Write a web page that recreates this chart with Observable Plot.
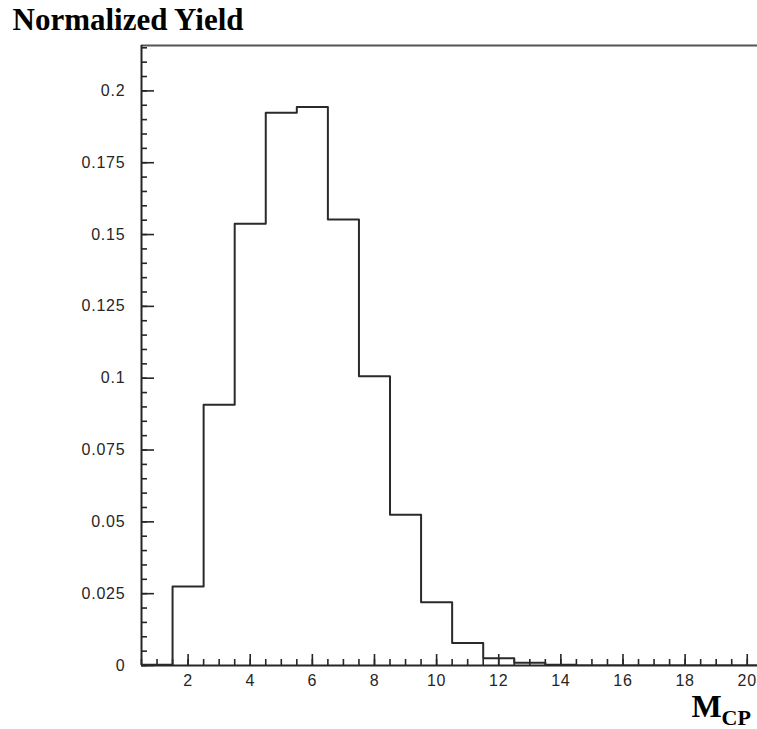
<!DOCTYPE html>
<html>
<head>
<meta charset="utf-8">
<script src="https://cdn.jsdelivr.net/npm/d3@7"></script>
<script src="https://cdn.jsdelivr.net/npm/@observablehq/plot@0.6"></script>
<style>
  body { margin: 0; background: #fff; }
  .ticklab text { letter-spacing: 0.8px; }
</style>
</head>
<body>
<div id="chart"></div>
<script>
// ---- Data ----
const binCenters = [1, 2, 3, 4, 5, 6, 7, 8, 9, 10, 11, 12, 13, 14, 15, 16, 17, 18, 19, 20];
const yieldValues = [0.0003, 0.0275, 0.0908, 0.1538, 0.1924, 0.1944, 0.1552, 0.1007, 0.0525, 0.0220,
                     0.0078, 0.0025, 0.0010, 0.0003, 0, 0, 0, 0, 0, 0];
const xTickLabels = [2, 4, 6, 8, 10, 12, 14, 16, 18, 20];
const yTickValues = [0, 0.025, 0.05, 0.075, 0.1, 0.125, 0.15, 0.175, 0.2];
const yTickLabels = ["0", "0.025", "0.05", "0.075", "0.1", "0.125", "0.15", "0.175", "0.2"];
const titleText = "Normalized Yield";
const xLabelMain = "M";
const xLabelSub = "CP";

// ---- Layout ----
const W = 757, H = 729;
const mL = 141, mT = 45, mR = 0, mB = 64;
const frameW = W - mL - mR, frameH = H - mT - mB;
const xDomain = [0.5, 20.33];
const yDomain = [0, 0.2158];
const ink = "#262626";

// step outline points at bin edges
const stepPts = binCenters.map((c, i) => ({x: c - 0.5, y: yieldValues[i]}));
stepPts.push({x: binCenters[binCenters.length - 1] + 0.5, y: yieldValues[yieldValues.length - 1]});

const xMinor = d3.range(0.5, 20.51, 0.5);
const yMinor = d3.range(0, 0.2158, 0.005);

const tickFont = {fontFamily: "Liberation Sans, Arial, sans-serif", fontSize: 16, fill: ink, className: "ticklab"};

const plot = Plot.plot({
  width: W, height: H,
  marginLeft: mL, marginTop: mT, marginRight: mR, marginBottom: mB,
  style: {fontFamily: "Liberation Sans, Arial, sans-serif", background: "#fff"},
  x: {domain: xDomain, axis: null},
  y: {domain: yDomain, axis: null},
  marks: [
    // frame lines
    Plot.ruleY([yDomain[1]], {stroke: "#555", strokeWidth: 2}),
    Plot.ruleX([xDomain[0]], {stroke: ink, strokeWidth: 2}),
    Plot.ruleY([0], {stroke: ink, strokeWidth: 2}),
    // x ticks (inward)
    Plot.tickX(xMinor, {x: d => d, insetTop: frameH - 6, stroke: ink, strokeWidth: 1.6}),
    Plot.tickX(xTickLabels, {x: d => d, insetTop: frameH - 11, stroke: ink, strokeWidth: 1.6}),
    // y ticks (inward)
    Plot.tickY(yMinor, {y: d => d, insetRight: frameW - 6, stroke: ink, strokeWidth: 1.6}),
    Plot.tickY(yTickValues, {y: d => d, insetRight: frameW - 13, stroke: ink, strokeWidth: 1.6}),
    // histogram outline
    Plot.line(stepPts, {x: "x", y: "y", curve: "step-after", stroke: "#2a2a2a", strokeWidth: 2, clip: true}),
    // tick labels
    Plot.text(yTickValues, {y: d => d, text: (d, i) => yTickLabels[i], frameAnchor: "left", dx: -16,
      textAnchor: "end", lineAnchor: "middle", ...tickFont}),
    Plot.text(xTickLabels, {x: d => d, text: d => String(d), frameAnchor: "bottom", dy: 9,
      lineAnchor: "top", ...tickFont}),
    // title
    Plot.text([titleText], {text: d => d, frameAnchor: "top-left", dx: 12 - mL, dy: 29.5 - mT,
      textAnchor: "start", lineAnchor: "bottom", fontFamily: "Liberation Serif, Times New Roman, serif",
      fontWeight: "bold", fontSize: 31, fill: "#000"}),
    // x axis label
    Plot.text([xLabelMain], {text: d => d, frameAnchor: "bottom-right", dx: 691 - W, dy: 716 - (H - mB),
      textAnchor: "start", lineAnchor: "bottom", fontFamily: "Liberation Serif, Times New Roman, serif",
      fontWeight: "bold", fontSize: 32, fill: "#000"}),
    Plot.text([xLabelSub], {text: d => d, frameAnchor: "bottom-right", dx: 721 - W, dy: 724 - (H - mB),
      textAnchor: "start", lineAnchor: "bottom", fontFamily: "Liberation Serif, Times New Roman, serif",
      fontWeight: "bold", fontSize: 22, fill: "#000"})
  ]
});
document.getElementById("chart").appendChild(plot);
</script>
</body>
</html>
